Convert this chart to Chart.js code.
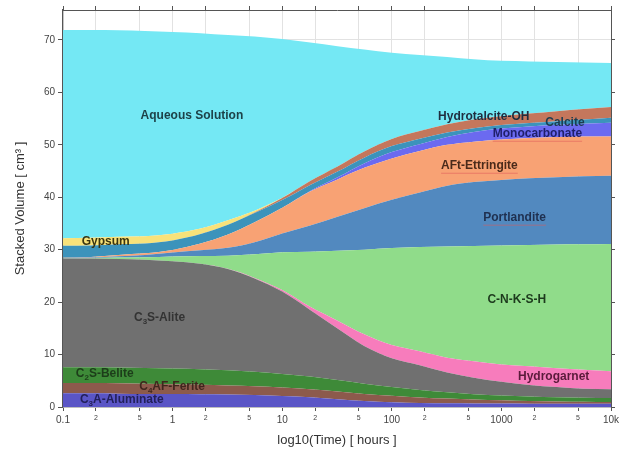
<!DOCTYPE html>
<html>
<head>
<meta charset="utf-8">
<script src="https://cdn.jsdelivr.net/npm/chart.js@4"></script>
<style>
  html, body { margin: 0; padding: 0; background: #ffffff; }
  canvas { display: block; }
</style>
</head>
<body>
<canvas id="chart" width="624" height="452"></canvas>
<script>
// Hydration time steps [hours]
const times = [0.1, 0.18, 0.32, 0.56, 1, 1.8, 3.2, 5.6, 10, 18, 32, 56, 100, 180, 320, 560, 1000, 1800, 3200, 5600, 10000];

// Phase volumes [cm3], listed from the bottom of the stack upwards
const aluminate   = [2.6, 2.6, 2.55, 2.5, 2.5, 2.45, 2.4, 2.3, 2.1, 1.85, 1.5, 1.15, 0.9, 0.77, 0.7, 0.68, 0.65, 0.63, 0.62, 0.6, 0.6];
const ferrite     = [2.0, 2.0, 2.0, 1.95, 1.85, 1.8, 1.7, 1.65, 1.6, 1.55, 1.45, 1.35, 1.25, 1.05, 0.9, 0.77, 0.65, 0.52, 0.43, 0.4, 0.35];
const belite      = [3.0, 3.0, 3.0, 3.0, 3.0, 2.95, 2.9, 2.75, 2.6, 2.4, 2.2, 1.95, 1.65, 1.4, 1.2, 1.0, 0.9, 0.85, 0.8, 0.75, 0.75];
const alite       = [20.7, 20.7, 20.65, 20.65, 20.45, 20.1, 19.3, 17.8, 15.7, 12.7, 9.8, 7.2, 5.5, 4.75, 3.8, 3.15, 2.6, 2.2, 1.95, 1.75, 1.7];
const hydrogarnet = [0, 0, 0, 0, 0, 0.02, 0.05, 0.12, 0.3, 0.6, 1.5, 2.2, 2.5, 2.65, 2.8, 3.1, 3.3, 3.55, 3.6, 3.6, 3.4];
const cnksh       = [0.05, 0.1, 0.3, 0.45, 0.9, 1.45, 2.5, 4.5, 7.2, 10.5, 13.35, 16.15, 18.5, 19.9, 21.2, 22.0, 22.7, 23.15, 23.6, 23.95, 24.3];
const portlandite = [0.05, 0.1, 0.25, 0.45, 0.75, 1.1, 1.5, 2.3, 3.6, 5.0, 6.5, 7.9, 9.2, 10.4, 11.6, 12.2, 12.5, 12.7, 12.8, 12.95, 13.0];
const ettringite  = [0.05, 0.1, 0.25, 0.3, 0.5, 1.3, 2.55, 3.8, 4.9, 6.5, 7.1, 7.7, 7.9, 7.9, 7.8, 7.7, 7.7, 7.7, 7.7, 7.6, 7.5];
const monocarb    = [0, 0, 0, 0, 0, 0, 0, 0, 0, 0.1, 0.4, 0.85, 1.2, 1.3, 1.5, 1.85, 2.1, 2.2, 2.3, 2.4, 2.6];
const calcite     = [2.3, 2.2, 2.05, 1.9, 1.8, 1.8, 1.85, 1.75, 1.45, 1.15, 1.1, 1.1, 1.15, 1.05, 0.85, 0.7, 0.65, 0.65, 0.7, 0.8, 0.95];
const hydrotalc   = [0, 0, 0, 0, 0, 0, 0.02, 0.12, 0.4, 0.75, 0.95, 1.15, 1.35, 1.45, 1.55, 1.65, 1.7, 1.8, 1.9, 2.0, 2.05];
const gypsum      = [1.45, 1.45, 1.4, 1.35, 1.3, 1.05, 0.85, 0.35, 0.05, 0, 0, 0, 0, 0, 0, 0, 0, 0, 0, 0, 0];
const aqueous     = [39.7, 39.65, 39.4, 39.15, 38.45, 37.25, 35.3, 33.2, 30.25, 26.4, 22.95, 19.45, 16.45, 14.5, 12.85, 11.5, 10.55, 9.95, 9.4, 8.9, 8.4];

// Tick labels of the time axis
const timeTicks  = [0.1, 0.2, 0.5, 1, 2, 5, 10, 20, 50, 100, 200, 500, 1000, 2000, 5000, 10000];
const timeLabels = ['0.1', '2', '5', '1', '2', '5', '10', '2', '5', '100', '2', '5', '1000', '2', '5', '10k'];
const volumeTicks = [0, 10, 20, 30, 40, 50, 60, 70];

const phases = [
  { name: 'C3A-Aluminate',   values: aluminate,   color: '#5a55c6' },
  { name: 'C4AF-Ferite',     values: ferrite,     color: '#8c5a4c' },
  { name: 'C2S-Belite',      values: belite,      color: '#3e8a38' },
  { name: 'C3S-Alite',       values: alite,       color: '#707070' },
  { name: 'Hydrogarnet',     values: hydrogarnet, color: '#f77cbc' },
  { name: 'C-N-K-S-H',       values: cnksh,       color: '#90dc8a' },
  { name: 'Portlandite',     values: portlandite, color: '#5289bf' },
  { name: 'AFt-Ettringite',  values: ettringite,  color: '#f8a274' },
  { name: 'Monocarbonate',   values: monocarb,    color: '#6b6af0' },
  { name: 'Calcite',         values: calcite,     color: '#3c93bb' },
  { name: 'Hydrotalcite-OH', values: hydrotalc,   color: '#c4775c' },
  { name: 'Gypsum',          values: gypsum,      color: '#f8e27a' },
  { name: 'Aqueous Solution',values: aqueous,     color: '#74e8f4' }
];

// In-plot labels: [segments, time, volume, colour, underline]
// a segment written as ['3', true] is drawn as a subscript
const areaLabels = [
  [[['Aqueous Solution']], 1.5, 55.5, '#1d4248', false],
  [[['Gypsum']], 0.245, 31.5, '#3a3410', false],
  [[['C'], ['3', true], ['S-Alite']], 0.76, 17.0, '#333333', false],
  [[['C'], ['2', true], ['S-Belite']], 0.24, 6.35, '#1d3d1a', false],
  [[['C'], ['4', true], ['AF-Ferite']], 0.99, 3.9, '#40261e', false],
  [[['C'], ['3', true], ['A-Aluminate']], 0.344, 1.4, '#22205a', false],
  [[['Hydrotalcite-OH']], 690, 55.3, '#1f2d3f', false],
  [[['Calcite']], 3800, 54.2, '#1d3d50', false],
  [[['Monocarbonate']], 2130, 52.1, '#1f1f6a', true],
  [[['AFt-Ettringite']], 630, 46.0, '#4a2a1a', true],
  [[['Portlandite']], 1320, 36.1, '#1f3050', true],
  [[['C-N-K-S-H']], 1380, 20.5, '#1d3a1d', false],
  [[['Hydrogarnet']], 3000, 5.8, '#5a1a3a', false]
];

const FONT = '"Liberation Sans", Arial, sans-serif';

const labelPlugin = {
  id: 'areaLabels',
  afterDatasetsDraw(chart) {
    const { ctx, scales } = chart;
    ctx.save();
    ctx.textBaseline = 'middle';
    ctx.textAlign = 'left';
    for (const [segs, t, v, color, underline] of areaLabels) {
      const cx = scales.x.getPixelForValue(t);
      const cy = scales.y.getPixelForValue(v);
      let w = 0;
      for (const [s, sub] of segs) {
        ctx.font = 'bold ' + (sub ? 8 : 12) + 'px ' + FONT;
        w += ctx.measureText(s).width;
      }
      let x = cx - w / 2;
      ctx.fillStyle = color;
      for (const [s, sub] of segs) {
        ctx.font = 'bold ' + (sub ? 8 : 12) + 'px ' + FONT;
        ctx.fillText(s, x, sub ? cy + 4 : cy);
        x += ctx.measureText(s).width;
      }
      if (underline) {
        ctx.strokeStyle = 'rgba(220,90,90,0.55)';
        ctx.lineWidth = 1;
        ctx.beginPath();
        ctx.moveTo(cx - w / 2, cy + 7.5);
        ctx.lineTo(cx + w / 2, cy + 7.5);
        ctx.stroke();
      }
    }
    ctx.restore();
  }
};

const datasets = phases.map((p, i) => ({
  label: p.name,
  data: times.map((t, k) => ({ x: t, y: p.values[k] })),
  backgroundColor: p.color,
  borderColor: p.color,
  borderWidth: 0,
  pointRadius: 0,
  fill: i === 0 ? 'origin' : '-1',
  cubicInterpolationMode: 'monotone'
}));

const setTimeTicks = scale => { scale.ticks = timeTicks.map(v => ({ value: v })); };
const setVolumeTicks = scale => { scale.ticks = volumeTicks.map(v => ({ value: v })); };
const axisColor = '#555555';
const gridColor = '#e2e2e2';

new Chart(document.getElementById('chart'), {
  type: 'line',
  data: { datasets },
  plugins: [labelPlugin],
  options: {
    responsive: false,
    animation: false,
    devicePixelRatio: 1,
    layout: { padding: 0 },
    plugins: { legend: { display: false }, tooltip: { enabled: false } },
    scales: {
      x: {
        type: 'logarithmic', position: 'bottom', min: 0.1, max: 10000,
        afterBuildTicks: setTimeTicks,
        afterFit: s => { s.height = 45; },
        border: { color: axisColor, width: 1.2 },
        grid: { color: gridColor, tickColor: axisColor, tickLength: 4 },
        ticks: {
          autoSkip: false, maxRotation: 0, padding: 3, color: '#444',
          font: c => ({ family: FONT, size: (String(timeLabels[c.index]).length > 1 || timeLabels[c.index] === '1') ? 10 : 7 }),
          callback: (v, i) => timeLabels[i]
        },
        title: { display: true, text: 'log10(Time) [ hours ]', color: '#333', font: { family: FONT, size: 13 }, padding: { top: 0, bottom: 4 } }
      },
      x2: {
        type: 'logarithmic', position: 'top', min: 0.1, max: 10000, display: true,
        afterBuildTicks: setTimeTicks,
        afterFit: s => { s.height = 10; },
        border: { color: axisColor },
        grid: { drawOnChartArea: false, tickColor: axisColor, tickLength: 4 },
        ticks: { display: false }
      },
      y: {
        type: 'linear', position: 'left', stacked: true, min: 0, max: 75.7,
        afterBuildTicks: setVolumeTicks,
        afterFit: s => { s.width = 63; },
        border: { color: axisColor, width: 1.2 },
        grid: { color: gridColor, tickColor: axisColor, tickLength: 5 },
        ticks: { padding: 3, color: '#444', font: { family: FONT, size: 10 } },
        title: { display: true, text: 'Stacked Volume [ cm³ ]', color: '#333', font: { family: FONT, size: 13 }, padding: { top: 13, bottom: 0 } }
      },
      y2: {
        type: 'linear', position: 'right', min: 0, max: 75.7, display: true,
        afterBuildTicks: setVolumeTicks,
        afterFit: s => { s.width = 13; },
        border: { color: axisColor },
        grid: { drawOnChartArea: false, tickColor: axisColor, tickLength: 4 },
        ticks: { display: false }
      }
    }
  }
});
</script>
</body>
</html>
